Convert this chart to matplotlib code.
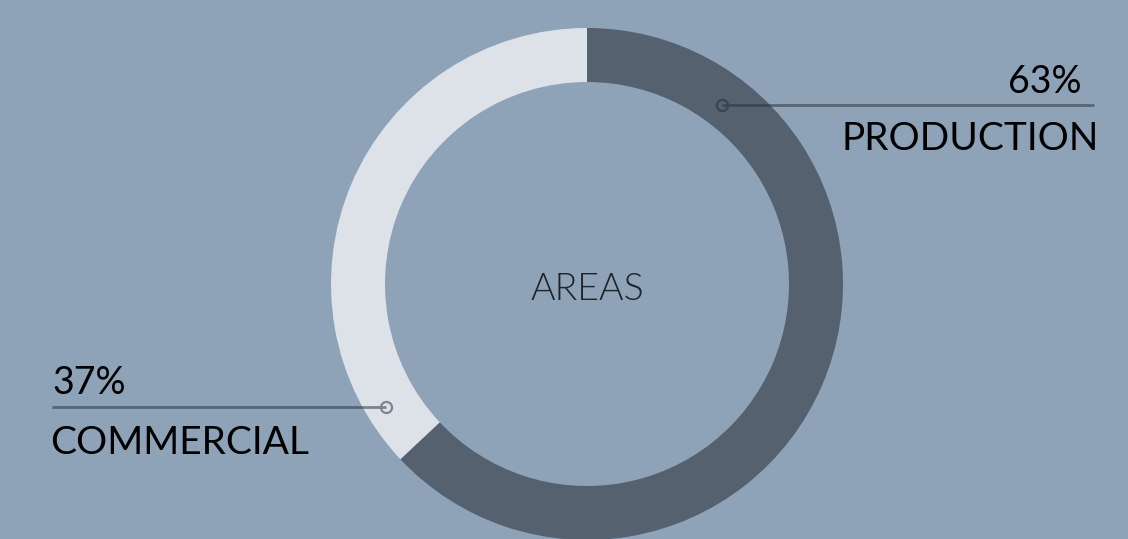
import matplotlib
matplotlib.use("Agg")
import matplotlib.pyplot as plt
import numpy as np

# Share of floor area by use
categories = ["PRODUCTION", "COMMERCIAL"]
shares = [63, 37]
pct_labels = ["63%", "37%"]
center_title = "AREAS"

BG = "#8ea2b8"
SLICE_COLORS = ["#55616e", "#dde2e9"]

W, H = 1128, 539
fig = plt.figure(figsize=(W / 100, H / 100), dpi=100, facecolor=BG)
ax = fig.add_axes([0, 0, 1, 1])
ax.set_facecolor(BG)

cx, cy = 587, H - 284
R, ring = 256, 54

ax.pie(shares, colors=SLICE_COLORS, startangle=90, counterclock=False,
       radius=R, center=(cx, cy),
       wedgeprops=dict(width=ring, linewidth=0))

ax.set_xlim(0, W)
ax.set_ylim(0, H)
ax.set_aspect("equal")
ax.axis("off")

font = "Lato"
ax.text(cx, H - 300, center_title, ha="center", va="baseline", fontsize=27,
        family=font, fontweight=300, color="#1e2328")

line_col = "#2a333d"
mid_r = R - ring / 2

# Production callout (right)
a = np.deg2rad(53)
px, py = cx + mid_r * np.cos(a) * 0.98, cy + mid_r * np.sin(a) * 0.98
ax.plot([px, 1094], [py, py], color=line_col, alpha=0.55, lw=2, solid_capstyle="butt")
ax.plot(px, py, "o", ms=8, mfc="none", mec="#3a4450", mew=1.6)
ax.text(1082, py + 12, pct_labels[0], ha="right", va="baseline", fontsize=27,
        family=font, color="black")
ax.text(1099, py - 45, categories[0], ha="right", va="baseline", fontsize=28,
        family=font, color="black")

# Commercial callout (left)
a = np.deg2rad(211.5)
qx, qy = cx + mid_r * np.cos(a) * 1.03, cy + mid_r * np.sin(a) * 1.03
ax.plot([52, qx], [qy, qy], color=line_col, alpha=0.55, lw=2, solid_capstyle="butt")
ax.plot(qx, qy, "o", ms=8, mfc="none", mec="#7d8690", mew=1.6)
ax.text(52, qy + 13, pct_labels[1], ha="left", va="baseline", fontsize=27,
        family=font, color="black")
ax.text(50, qy - 47, categories[1], ha="left", va="baseline", fontsize=28,
        family=font, color="black")

fig.savefig("out.png", dpi=100, facecolor=BG)
